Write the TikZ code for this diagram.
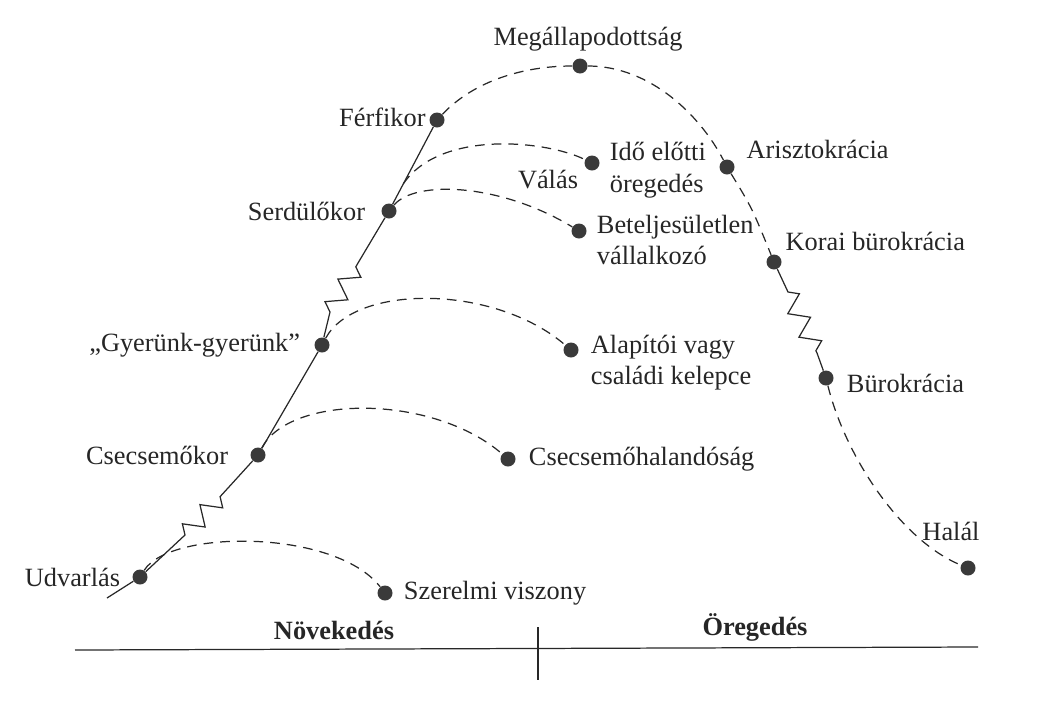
\documentclass[tikz,border=0pt]{standalone}
\usepackage{fontspec}
\setmainfont{Liberation Serif}
\usetikzlibrary{positioning,calc,decorations.pathmorphing}
\definecolor{cycledot}{RGB}{58,58,58}
\definecolor{cycleline}{RGB}{40,40,40}

\begin{document}
\begin{tikzpicture}[x=0.02cm, y=-0.02cm,
    stage/.style={circle, fill=cycledot, inner sep=0pt, minimum size=0.3cm},
    lbl/.style={inner sep=1pt, text=black!85, font=\fontsize{15}{18}\selectfont},
    phase/.style={lbl, font=\fontsize{15}{18}\selectfont\bfseries},
    life/.style={cycleline, line width=0.7pt},
    trap/.style={cycleline, line width=0.7pt, dash pattern=on 5.5pt off 4pt},
    zz/.style={decorate, decoration={zigzag, segment length=0.52cm, amplitude=0.19cm}}]
    \useasboundingbox (0,0) rectangle (1044,707);

    % Growing stages
    \node[stage] (udv) at (140,577) {};
    \node[stage] (csec) at (258,455) {};
    \node[stage] (gyer) at (322,345) {};
    \node[stage] (serd) at (389,211) {};
    \node[stage] (ferf) at (437,120) {};

    % Aging stages
    \node[stage] (megall) at (580,66) {};
    \node[stage] (arisz) at (727,167) {};
    \node[stage] (korai) at (774,262) {};
    \node[stage] (buro) at (826,378) {};
    \node[stage] (halal) at (968,568) {};

    % Traps
    \node[stage] (szer) at (385,593) {};
    \node[stage] (halan) at (508,459) {};
    \node[stage] (alap) at (571,350) {};
    \node[stage] (betel) at (579,231) {};
    \node[stage] (ido) at (592,163) {};

    % Labels
    \node[lbl, left=0.2cm of udv] {Udvarlás};
    \node[lbl, left=0.4cm of csec] {Csecsemőkor};
    \node[lbl, left=0.24cm of gyer] {„Gyerünk-gyerünk”};
    \node[lbl, left=0.28cm of serd] {Serdülőkor};
    \node[lbl, left=0.03cm of ferf, yshift=0.06cm] {Férfikor};
    \node[lbl, above=0.1cm of megall, xshift=0.16cm] {Megállapodottság};
    \node[lbl, above right=0.02cm and 0.24cm of arisz] {Arisztokrácia};
    \node[lbl, above right=0.08cm and 0.08cm of korai] {Korai bürokrácia};
    \node[lbl, right=0.22cm of buro, yshift=-0.1cm] {Bürokrácia};
    \node[lbl, above=0.34cm of halal, xshift=-0.34cm] {Halál};
    \node[lbl, right=0.18cm of szer] {Szerelmi viszony};
    \node[lbl, right=0.22cm of halan] {Csecsemőhalandóság};
    \node[lbl, right=0.2cm of alap, yshift=-0.25cm, align=left] {Alapítói vagy\\családi kelepce};
    \node[lbl, right=0.16cm of betel, yshift=-0.18cm, align=left] {Beteljesületlen\\vállalkozó};
    \node[lbl, right=0.16cm of ido, yshift=-0.14cm, align=left] {Idő előtti\\öregedés};
    \node[lbl] (valas) at (548,180) {Válás};

    % Main curve
    \coordinate (start) at (107,598);
    \coordinate (z1) at (185,535);
    \coordinate (z2) at (228,488);
    \coordinate (z3) at (330,312);
    \coordinate (z4) at (358,263);
    \coordinate (z5) at (788,292);
    \coordinate (z6) at (817,353);
    \draw[life] (start) -- (udv) -- (z1) decorate[zz]{-- (z2)} -- (csec) -- (gyer)
        -- (z3) decorate[zz]{-- (z4)} -- (serd) -- (ferf);
    \draw[trap] (ferf) .. controls (475,80) and (525,66) .. (megall)
        .. controls (650,66) and (700,115) .. (arisz) .. controls (752,208) .. (korai);
    \draw[life] (korai) -- (z5) decorate[zz]{-- (z6)} -- (buro);
    \draw[trap] (buro) .. controls (845,455) and (900,540) .. (halal);

    % Branches into the traps
    \coordinate (split) at ($(serd)!0.3!(ferf)$);
    \draw[trap] (udv) .. controls (170,529) and (335,529) .. (szer);
    \draw[trap] (csec) .. controls (290,394) and (433,394) .. (halan);
    \draw[trap] (gyer) .. controls (355,284) and (494,284) .. (alap);
    \draw[trap] (serd) .. controls (415,180) and (500,183) .. (betel);
    \draw[trap] (split) .. controls (440,130) and (545,140) .. (ido);

    % Growing / aging axis
    \coordinate (axl) at (75,650);
    \coordinate (axr) at (978,647);
    \coordinate (divt) at (538,627);
    \coordinate (divb) at (538,680);
    \draw[life] (axl) -- (axr);
    \draw[life] (divt) -- (divb);
    \node[phase] (grow) at (334,630) {Növekedés};
    \node[phase] (age) at (755,627) {Öregedés};
\end{tikzpicture}
\end{document}
